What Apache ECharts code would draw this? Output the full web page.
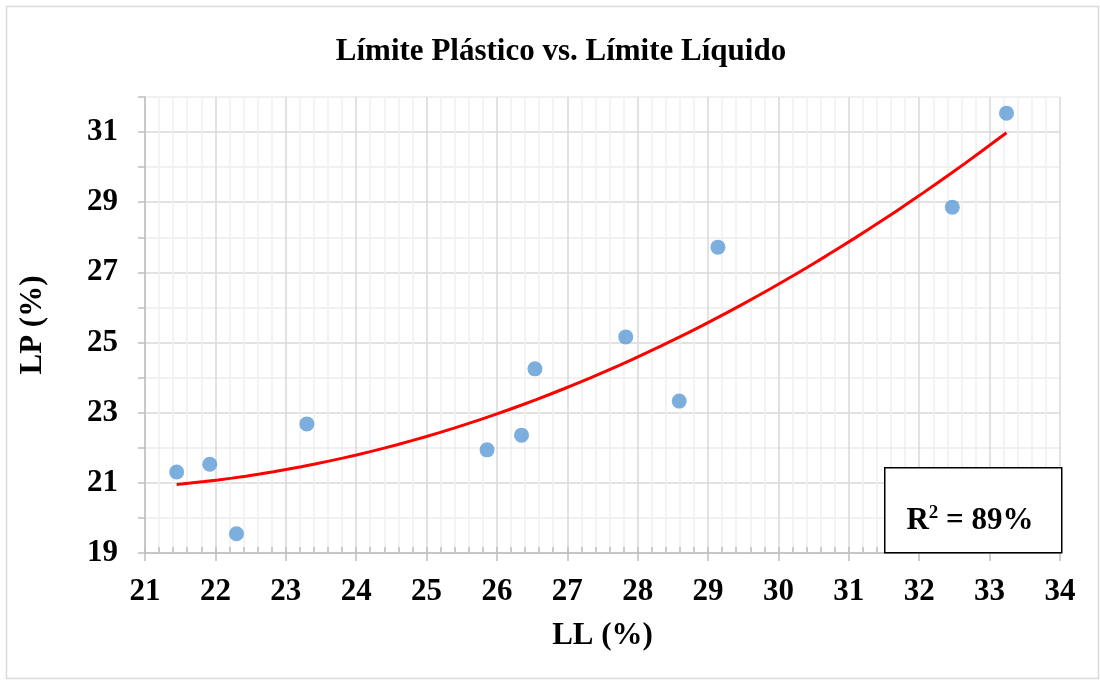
<!DOCTYPE html>
<html>
<head>
<meta charset="utf-8">
<script src="https://cdn.jsdelivr.net/npm/echarts@6/dist/echarts.min.js"></script>
<style>
  html, body { margin: 0; padding: 0; background: #fff; }
  #main { width: 1100px; height: 680px; }
</style>
</head>
<body>
<div id="main"></div>
<script>
// datos
var llValues = [21.45, 21.92, 22.30, 23.30, 25.86, 26.35, 26.54, 27.83, 28.59, 29.14, 32.47, 33.24];
var lpValues = [21.31, 21.53, 19.55, 22.68, 21.94, 22.36, 24.25, 25.16, 23.33, 27.72, 28.86, 31.54];
var chartTitle = 'Límite Plástico vs. Límite Líquido';
var r2Label = '89%';

// ajuste polinomico de orden 2 (minimos cuadrados), como la linea de tendencia de Excel
function polyFit2(xs, ys) {
	var n = xs.length, s = [0, 0, 0, 0, 0], t = [0, 0, 0];
	for (var i = 0; i < n; i++) {
		var p = 1;
		for (var k = 0; k < 5; k++) {
			s[k] += p;
			if (k < 3) t[k] += p * ys[i];
			p *= xs[i];
		}
	}
	var m = [[s[0], s[1], s[2], t[0]], [s[1], s[2], s[3], t[1]], [s[2], s[3], s[4], t[2]]];
	for (var c = 0; c < 3; c++) {
		for (var r = c + 1; r < 3; r++) {
			var f = m[r][c] / m[c][c];
			for (var j = c; j < 4; j++) m[r][j] -= f * m[c][j];
		}
	}
	var coef = [0, 0, 0];
	for (var r = 2; r >= 0; r--) {
		var sum = m[r][3];
		for (var j = r + 1; j < 3; j++) sum -= m[r][j] * coef[j];
		coef[r] = sum / m[r][r];
	}
	return coef;
}

var coef = polyFit2(llValues, lpValues);
var xMinData = Math.min.apply(null, llValues);
var xMaxData = Math.max.apply(null, llValues);
var trendData = [];
for (var i = 0; i <= 60; i++) {
	var x = xMinData + (xMaxData - xMinData) * i / 60;
	trendData.push([x, coef[0] + coef[1] * x + coef[2] * x * x]);
}

var scatterData = [];
for (var i = 0; i < llValues.length; i++) {
	scatterData.push([llValues[i], lpValues[i]]);
}

var font = 'Liberation Serif';
var myChart = echarts.init(document.getElementById('main'));
var option = {
	animation: false,
	title: {
		text: chartTitle,
		left: 556,
		textAlign: 'center',
		top: 31,
		textStyle: { fontFamily: font, fontWeight: 'bold', fontSize: 31, color: '#000' }
	},
	grid: { left: 145, right: 40, top: 97, bottom: 127 },
	xAxis: [{
		type: 'value',
		min: 21, max: 34, interval: 1,
		name: 'LL (%)',
		nameLocation: 'middle',
		nameGap: 67,
		nameTextStyle: { fontFamily: font, fontWeight: 'bold', fontSize: 31, color: '#000' },
		axisLine: { show: true, lineStyle: { color: '#bfbfbf', width: 1.5 } },
		axisTick: { show: true, length: 8, lineStyle: { color: '#bfbfbf', width: 1.5 } },
		axisLabel: { margin: 23, fontFamily: font, fontWeight: 'bold', fontSize: 31, color: '#000' },
		splitLine: { show: true, lineStyle: { color: '#d9d9d9', width: 1.5 } },
		minorTick: { show: false, splitNumber: 5 },
		minorSplitLine: { show: true, lineStyle: { color: '#f0f0f0', width: 1.5 } }
	}, {
		// solo para las marcas menores hacia dentro
		type: 'value',
		position: 'bottom',
		min: 21, max: 34, interval: 0.2,
		axisLine: { show: false },
		axisTick: { show: true, inside: true, length: 6, lineStyle: { color: '#bfbfbf', width: 1.5 } },
		axisLabel: { show: false },
		splitLine: { show: false }
	}],
	yAxis: {
		type: 'value',
		min: 19, max: 32, interval: 1,
		name: 'LP (%)',
		nameLocation: 'middle',
		nameGap: 97,
		nameRotate: 90,
		nameTextStyle: { fontFamily: font, fontWeight: 'bold', fontSize: 31, color: '#000' },
		axisLine: { show: true, lineStyle: { color: '#bfbfbf', width: 1.5 } },
		axisTick: { show: true, length: 7, lineStyle: { color: '#bfbfbf', width: 1.5 } },
		axisLabel: {
			margin: 27,
			fontFamily: font, fontWeight: 'bold', fontSize: 31, color: '#000',
			formatter: function (v) { return (v % 2 === 1) ? String(v) : ''; }
		},
		splitLine: { show: true, lineStyle: { color: ['#d9d9d9', '#ececec'], width: 1.5 } }
	},
	series: [{
		type: 'scatter',
		data: scatterData,
		symbolSize: 15,
		itemStyle: { color: '#5b9bd5' },
		z: 3
	}, {
		type: 'line',
		data: trendData,
		showSymbol: false,
		smooth: false,
		lineStyle: { color: '#ff0000', width: 3 },
		z: 4
	}],
	graphic: [{
		type: 'rect',
		left: 4, top: 4,
		shape: { width: 1092, height: 672 },
		style: { fill: 'none', stroke: '#d9d9d9', lineWidth: 1.5 },
		silent: true
	}, {
		type: 'rect',
		left: 884, top: 467,
		shape: { width: 177, height: 85 },
		style: { fill: '#fff', stroke: '#000', lineWidth: 1.5 },
		z: 10
	}, {
		type: 'text',
		z: 11,
		style: {
			x: 970, y: 520,
			align: 'center',
			verticalAlign: 'middle',
			text: '{b|R}{s|2}{b| = ' + r2Label + '}',
			rich: {
				b: { fontFamily: font, fontWeight: 'bold', fontSize: 31, fill: '#000', verticalAlign: 'bottom' },
				s: { fontFamily: font, fontWeight: 'bold', fontSize: 19, fill: '#000', verticalAlign: 'top', padding: [0, 0, 14, 0] }
			}
		}
	}]
};
myChart.setOption(option);
</script>
</body>
</html>
